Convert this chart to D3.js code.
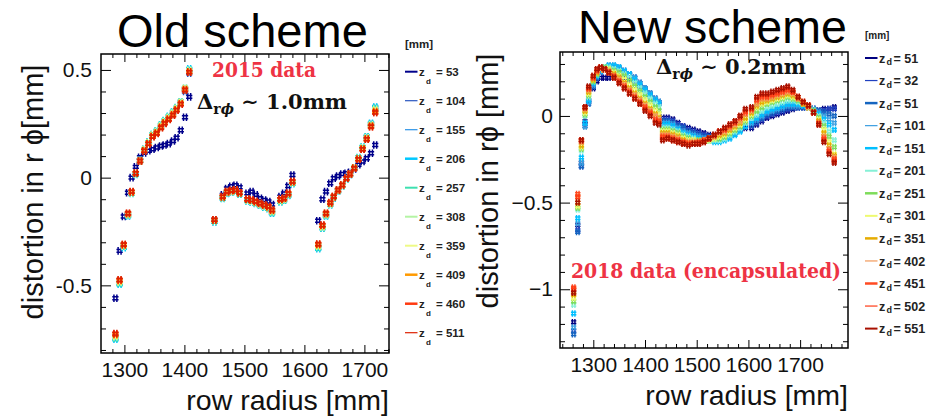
<!DOCTYPE html>
<html><head><meta charset="utf-8">
<script src="https://cdn.jsdelivr.net/npm/d3@7"></script>
<style>body{margin:0;background:#fff}svg{display:block}</style>
</head><body>
<svg id="c" width="936" height="418"></svg>
<script>
// ---------------- DATA: Old scheme (2015) ----------------
const oldRadius = [1285,1292,1299,1306,1312,1319,1326,1333,1340,1347,1354,1361,1367,1374,1381,1387,1394,1401,1408,
  1450,1464,1471,1478,1485,1492,1505,1512,1519,1526,1533,1540,1546,1560,1566,1573,1580,
  1623,1630,1636,1643,1649,1656,1663,1670,1676,1683,1690,1697,1704,1711,1718];
const oldZd = ["53","104","155","206","257","308","359","409","460","511"];
const old_z53 = [-0.56,-0.34,-0.18,-0.07,0.0,0.05,0.095,0.115,0.125,0.132,0.14,0.147,0.152,0.158,0.17,0.185,0.22,0.28,0.375,
  -0.195,-0.08,-0.05,-0.04,-0.035,-0.045,-0.073,-0.065,-0.08,-0.096,-0.104,-0.111,-0.125,-0.088,-0.073,-0.039,0.012,
  -0.20,-0.10,-0.065,-0.026,-0.003,0.008,0.017,0.02,0.025,0.04,0.06,0.075,0.09,0.113,0.152];
const old_z104 = [-0.735,-0.48,-0.315,-0.17,-0.07,0.018,0.078,0.128,0.16,0.195,0.212,0.238,0.258,0.277,0.297,0.318,0.345,0.40,0.485,
  -0.20,-0.092,-0.07,-0.063,-0.06,-0.073,-0.103,-0.108,-0.115,-0.123,-0.131,-0.138,-0.155,-0.105,-0.1,-0.078,-0.022,
  -0.315,-0.226,-0.17,-0.12,-0.09,-0.06,-0.036,-0.005,0.016,0.044,0.088,0.137,0.185,0.245,0.315];
const old_z155 = [-0.745,-0.49,-0.32,-0.175,-0.072,0.016,0.08,0.13,0.163,0.198,0.216,0.242,0.262,0.282,0.302,0.322,0.35,0.41,0.5,
  -0.205,-0.095,-0.072,-0.066,-0.063,-0.076,-0.106,-0.112,-0.118,-0.127,-0.135,-0.142,-0.162,-0.11,-0.104,-0.082,-0.026,
  -0.325,-0.232,-0.175,-0.124,-0.093,-0.062,-0.038,-0.006,0.015,0.045,0.092,0.14,0.19,0.25,0.325];
const old_z206 = [-0.75,-0.495,-0.325,-0.178,-0.073,0.015,0.08,0.132,0.165,0.2,0.218,0.245,0.265,0.285,0.305,0.325,0.352,0.412,0.505,
  -0.205,-0.097,-0.073,-0.067,-0.064,-0.077,-0.108,-0.113,-0.12,-0.128,-0.137,-0.144,-0.165,-0.112,-0.105,-0.083,-0.028,
  -0.33,-0.235,-0.178,-0.126,-0.094,-0.063,-0.038,-0.006,0.015,0.046,0.093,0.142,0.19,0.252,0.328];
const old_z257 = [-0.745,-0.49,-0.32,-0.175,-0.072,0.017,0.08,0.131,0.164,0.2,0.217,0.244,0.264,0.283,0.303,0.324,0.352,0.415,0.5,
  -0.203,-0.095,-0.071,-0.066,-0.063,-0.076,-0.106,-0.111,-0.118,-0.126,-0.135,-0.142,-0.162,-0.11,-0.103,-0.081,-0.026,
  -0.325,-0.232,-0.175,-0.124,-0.092,-0.061,-0.037,-0.005,0.016,0.046,0.092,0.14,0.188,0.248,0.322];
const old_z308 = [-0.74,-0.485,-0.318,-0.172,-0.07,0.018,0.079,0.13,0.162,0.198,0.214,0.241,0.261,0.28,0.3,0.322,0.35,0.415,0.498,
  -0.2,-0.093,-0.069,-0.064,-0.061,-0.074,-0.104,-0.109,-0.116,-0.124,-0.133,-0.14,-0.158,-0.107,-0.1,-0.078,-0.024,
  -0.32,-0.23,-0.172,-0.122,-0.091,-0.06,-0.036,-0.004,0.017,0.046,0.09,0.138,0.185,0.245,0.318];
const old_z359 = [-0.735,-0.482,-0.316,-0.17,-0.069,0.019,0.078,0.128,0.16,0.195,0.211,0.238,0.258,0.277,0.297,0.319,0.347,0.413,0.495,
  -0.198,-0.091,-0.068,-0.062,-0.059,-0.072,-0.102,-0.107,-0.114,-0.122,-0.13,-0.138,-0.155,-0.104,-0.099,-0.076,-0.021,
  -0.316,-0.226,-0.17,-0.12,-0.09,-0.059,-0.035,-0.004,0.017,0.045,0.088,0.136,0.183,0.242,0.312];
const old_z409 = [-0.73,-0.478,-0.313,-0.168,-0.067,0.02,0.078,0.126,0.158,0.192,0.208,0.235,0.255,0.273,0.293,0.316,0.344,0.41,0.492,
  -0.197,-0.09,-0.066,-0.061,-0.058,-0.071,-0.101,-0.105,-0.112,-0.12,-0.128,-0.136,-0.152,-0.102,-0.097,-0.075,-0.02,
  -0.312,-0.223,-0.167,-0.118,-0.089,-0.058,-0.034,-0.003,0.017,0.045,0.086,0.134,0.18,0.24,0.308];
const old_z460 = [-0.726,-0.476,-0.311,-0.166,-0.066,0.02,0.077,0.125,0.157,0.191,0.206,0.233,0.253,0.271,0.291,0.314,0.342,0.408,0.49,
  -0.196,-0.089,-0.065,-0.06,-0.057,-0.07,-0.1,-0.104,-0.111,-0.119,-0.127,-0.134,-0.15,-0.1,-0.096,-0.073,-0.018,
  -0.309,-0.221,-0.166,-0.117,-0.088,-0.057,-0.034,-0.003,0.017,0.044,0.085,0.132,0.178,0.237,0.303];
const old_z511 = [-0.724,-0.474,-0.31,-0.165,-0.065,0.02,0.077,0.124,0.156,0.19,0.205,0.232,0.252,0.27,0.29,0.313,0.341,0.406,0.49,
  -0.196,-0.088,-0.065,-0.06,-0.057,-0.07,-0.10,-0.104,-0.111,-0.119,-0.127,-0.134,-0.15,-0.10,-0.096,-0.073,-0.018,
  -0.308,-0.22,-0.165,-0.116,-0.088,-0.057,-0.034,-0.003,0.017,0.044,0.085,0.132,0.178,0.237,0.302];
const oldXTicks = [1300,1400,1500,1600,1700];
const oldXTickLabels = ["1300","1400","1500","1600","1700"];
const oldYTicks = [-0.5,0,0.5];
const oldYTickLabels = ["-0.5","0","0.5"];

// ---------------- DATA: New scheme (2018) ----------------
const newRadius = [1262,1270,1277,1284,1291,1300,1307,1314,1322,1330,1340,1350,1360,1370,1380,1390,1400,1410,1420,1427,
  1434,1444,1454,1464,1474,1484,1494,1504,1514,1524,1534,1544,1554,1564,1574,1584,1594,
  1606,1616,1626,1636,1646,1656,1666,1676,1686,1696,1706,1716,1726,1736,1746,1756,1766];
const newZd = ["51","32","51","101","151","201","251","301","351","402","451","502","551"];
const new_s0 = [-1.19,-0.63,-0.27,-0.03,0.09,0.16,0.20,0.22,0.22,0.22,0.23,0.23,0.22,0.21,0.19,0.17,0.15,0.12,0.09,0.07,
  -0.01,-0.01,-0.02,-0.04,-0.06,-0.07,-0.08,-0.09,-0.10,-0.11,-0.11,-0.11,-0.11,-0.10,-0.09,-0.08,-0.07,
  -0.07,-0.05,-0.03,-0.01,0.0,0.01,0.02,0.03,0.04,0.05,0.05,0.05,0.04,0.03,0.04,0.04,0.05];
const new_s1 = [-1.24,-0.66,-0.29,-0.05,0.08,0.17,0.22,0.25,0.27,0.28,0.28,0.27,0.26,0.24,0.22,0.19,0.16,0.13,0.10,0.08,
  -0.02,-0.02,-0.03,-0.05,-0.06,-0.08,-0.09,-0.10,-0.11,-0.12,-0.12,-0.12,-0.11,-0.10,-0.09,-0.08,-0.06,
  -0.06,-0.04,-0.02,0.0,0.01,0.02,0.03,0.04,0.05,0.05,0.05,0.05,0.04,0.03,0.03,0.04,0.04];
const new_s2 = [-1.26,-0.67,-0.29,-0.06,0.07,0.17,0.22,0.26,0.28,0.29,0.29,0.28,0.26,0.24,0.22,0.19,0.16,0.13,0.10,0.08,
  -0.03,-0.03,-0.04,-0.06,-0.07,-0.09,-0.10,-0.11,-0.12,-0.12,-0.13,-0.12,-0.12,-0.11,-0.10,-0.08,-0.06,
  -0.05,-0.03,-0.01,0.01,0.02,0.03,0.04,0.05,0.05,0.05,0.05,0.05,0.04,0.03,0.02,0.01,0.0];
const new_s3 = [-1.22,-0.62,-0.27,-0.06,0.08,0.18,0.23,0.26,0.28,0.29,0.29,0.28,0.26,0.24,0.22,0.19,0.16,0.13,0.10,0.08,
  -0.04,-0.04,-0.05,-0.07,-0.09,-0.10,-0.11,-0.12,-0.13,-0.13,-0.14,-0.13,-0.13,-0.12,-0.10,-0.08,-0.06,
  -0.04,-0.02,0.0,0.02,0.03,0.04,0.05,0.06,0.06,0.06,0.06,0.05,0.04,0.02,0.0,-0.02,-0.04];
const new_s4 = [-1.14,-0.59,-0.24,-0.04,0.09,0.19,0.23,0.26,0.28,0.29,0.29,0.28,0.26,0.24,0.21,0.18,0.15,0.12,0.09,0.07,
  -0.05,-0.05,-0.06,-0.08,-0.10,-0.11,-0.12,-0.13,-0.14,-0.14,-0.15,-0.15,-0.14,-0.13,-0.11,-0.09,-0.06,
  -0.03,-0.01,0.01,0.03,0.04,0.05,0.06,0.07,0.07,0.07,0.06,0.05,0.03,0.01,-0.02,-0.05,-0.08];
const new_s5 = [-1.09,-0.54,-0.20,0.0,0.11,0.20,0.24,0.27,0.28,0.28,0.27,0.26,0.24,0.22,0.19,0.16,0.13,0.10,0.07,0.05,
  -0.07,-0.07,-0.08,-0.09,-0.11,-0.12,-0.13,-0.14,-0.14,-0.14,-0.14,-0.14,-0.13,-0.11,-0.09,-0.07,-0.04,
  -0.01,0.01,0.03,0.05,0.06,0.07,0.08,0.09,0.09,0.08,0.07,0.05,0.03,0.0,-0.04,-0.09,-0.14];
const new_s6 = [-1.07,-0.53,-0.19,0.01,0.12,0.20,0.24,0.27,0.28,0.27,0.26,0.25,0.23,0.20,0.17,0.14,0.11,0.08,0.05,0.03,
  -0.08,-0.08,-0.09,-0.10,-0.12,-0.13,-0.14,-0.14,-0.14,-0.14,-0.13,-0.13,-0.12,-0.10,-0.08,-0.06,-0.03,
  0.0,0.03,0.05,0.07,0.08,0.09,0.10,0.11,0.10,0.09,0.07,0.05,0.03,-0.01,-0.06,-0.12,-0.18];
const new_s7 = [-1.05,-0.52,-0.18,0.02,0.13,0.21,0.25,0.27,0.27,0.27,0.25,0.23,0.21,0.18,0.15,0.12,0.09,0.06,0.03,0.01,
  -0.09,-0.09,-0.10,-0.11,-0.13,-0.14,-0.14,-0.15,-0.14,-0.14,-0.13,-0.12,-0.11,-0.09,-0.07,-0.05,-0.02,
  0.01,0.05,0.07,0.08,0.09,0.10,0.11,0.12,0.11,0.10,0.07,0.05,0.02,-0.02,-0.08,-0.15,-0.22];
const new_s8 = [-1.03,-0.50,-0.17,0.03,0.14,0.21,0.25,0.27,0.27,0.26,0.24,0.22,0.19,0.16,0.13,0.10,0.07,0.04,0.01,-0.01,
  -0.10,-0.10,-0.11,-0.12,-0.14,-0.15,-0.15,-0.15,-0.14,-0.13,-0.12,-0.11,-0.10,-0.08,-0.06,-0.04,-0.01,
  0.02,0.06,0.08,0.09,0.10,0.11,0.12,0.13,0.12,0.10,0.07,0.05,0.02,-0.03,-0.10,-0.17,-0.23];
const new_s9 = [-1.0,-0.46,-0.15,0.04,0.15,0.22,0.26,0.27,0.27,0.26,0.23,0.21,0.18,0.15,0.12,0.09,0.06,0.03,0.0,-0.02,
  -0.11,-0.11,-0.12,-0.13,-0.15,-0.15,-0.15,-0.15,-0.14,-0.13,-0.12,-0.10,-0.09,-0.07,-0.05,-0.03,0.01,
  0.03,0.07,0.10,0.10,0.11,0.12,0.13,0.14,0.13,0.10,0.08,0.05,0.02,-0.04,-0.12,-0.19,-0.24];
const new_s10 = [-0.99,-0.45,-0.14,0.05,0.16,0.22,0.26,0.28,0.27,0.25,0.23,0.20,0.17,0.14,0.11,0.08,0.05,0.02,-0.02,-0.03,
  -0.12,-0.12,-0.13,-0.14,-0.15,-0.16,-0.16,-0.15,-0.14,-0.13,-0.11,-0.09,-0.08,-0.06,-0.04,-0.01,0.02,
  0.04,0.09,0.11,0.11,0.12,0.13,0.14,0.15,0.14,0.11,0.08,0.06,0.02,-0.04,-0.13,-0.20,-0.25];
const new_s11 = [-1.0,-0.47,-0.14,0.05,0.16,0.23,0.27,0.28,0.27,0.25,0.22,0.19,0.16,0.13,0.10,0.07,0.04,0.01,-0.03,-0.04,
  -0.13,-0.13,-0.14,-0.15,-0.16,-0.16,-0.16,-0.16,-0.15,-0.13,-0.11,-0.09,-0.07,-0.05,-0.03,0.0,0.03,
  0.04,0.10,0.12,0.12,0.13,0.14,0.15,0.16,0.14,0.11,0.08,0.06,0.02,-0.05,-0.14,-0.21,-0.26];
const new_s12 = [-1.02,-0.50,-0.14,0.05,0.17,0.23,0.27,0.28,0.27,0.25,0.22,0.19,0.16,0.13,0.10,0.07,0.03,0.0,-0.04,-0.05,
  -0.14,-0.13,-0.14,-0.15,-0.16,-0.17,-0.16,-0.16,-0.15,-0.13,-0.11,-0.09,-0.07,-0.05,-0.03,0.0,0.04,
  0.05,0.11,0.13,0.13,0.14,0.15,0.16,0.17,0.15,0.11,0.08,0.06,0.02,-0.05,-0.15,-0.22,-0.27];
const newXTicks = [1300,1400,1500,1600,1700];
const newXTickLabels = ["1300","1400","1500","1600","1700"];
const newYTicks = [-1,-0.5,0];
const newYTickLabels = ["\u22121","\u22120.5","0"];

// ---------------- STYLES ----------------
const oldColors = ["#00008b","#2a56c0","#2b92e6","#00c8ff","#3ee0b0","#b4f4a4","#eefa86","#ff9a00","#ff3a10","#dd2000"];
const oldLegendWidths = [2,1.2,1.2,2.5,2,2,2,2.5,2.5,1.2];
const newColors = ["#000080","#2040c0","#1565c0","#3a9ee0","#00bfff","#86f0d6","#7edc5a","#eefa70","#e6ac00","#f29a5a","#ff4a22","#ff3a14","#a81000"];
const newLegendWidths = [2,1.2,2.5,1.2,2.5,2,2.5,2,2.5,1.2,2.5,1.2,2];

const oldSeries = [old_z53,old_z104,old_z155,old_z206,old_z257,old_z308,old_z359,old_z409,old_z460,old_z511];
const newSeries = [new_s0,new_s1,new_s2,new_s3,new_s4,new_s5,new_s6,new_s7,new_s8,new_s9,new_s10,new_s11,new_s12];

const svg = d3.select("#c");
const SANS = "'Liberation Sans', Arial, Helvetica, sans-serif";
const SERIF = "'DejaVu Serif', serif";

function marker(s){
  const a = 3*s, b = 1.4*s, c = 3.6*s;
  return `M${-a},${-b}H${a}M${-a},${b}H${a}M${-b},${-c}V${c}M${b},${-c}V${c}`;
}

function panel(o){
  const g = svg.append("g");
  const x = d3.scaleLinear().domain(o.xDomain).range([o.left, o.right]);
  const y = d3.scaleLinear().domain(o.yDomain).range([o.bottom, o.top]);
  const xMinor = d3.range(Math.ceil(o.xDomain[0]/20), Math.floor(o.xDomain[1]/20)+1).map(k=>k*20).filter(v=>o.xTicks.indexOf(v)<0);
  const yMinor = d3.range(Math.ceil(o.yDomain[0]*10), Math.floor(o.yDomain[1]*10)+1).map(k=>k/10).filter(v=>!o.yTicks.some(t=>Math.abs(t-v)<1e-9));

  o.series.forEach((vals,si)=>{
    const sg = g.append("g").attr("stroke", o.colors[si]).attr("stroke-width", o.mw).attr("fill","none");
    sg.selectAll("path").data(o.radius.map((r,i)=>[r,vals[i]])).join("path")
      .attr("transform", d=>`translate(${x(d[0])},${y(d[1])})`)
      .attr("d", marker(o.ms));
  });

  function styleAxis(sel, fs){
    sel.select(".domain").remove();
    sel.attr("color","#000");
    sel.selectAll("line").attr("stroke-width",1);
    sel.selectAll("text").attr("font-family",SANS).attr("font-size",fs).attr("fill","#111");
  }
  const lab = (arr,ticks)=> (d)=>arr[ticks.indexOf(d)];
  g.append("g").attr("transform",`translate(0,${o.bottom})`)
    .call(d3.axisBottom(x).tickValues(o.xTicks).tickSize(-8).tickPadding(o.xPad).tickFormat(lab(o.xLabels,o.xTicks)))
    .call(s=>styleAxis(s,21));
  g.append("g").attr("transform",`translate(0,${o.bottom})`)
    .call(d3.axisBottom(x).tickValues(xMinor).tickSize(-4).tickFormat("")).call(s=>styleAxis(s,1));
  g.append("g").attr("transform",`translate(0,${o.top})`)
    .call(d3.axisTop(x).tickValues(o.xTicks).tickSize(-8).tickFormat("")).call(s=>styleAxis(s,1));
  g.append("g").attr("transform",`translate(0,${o.top})`)
    .call(d3.axisTop(x).tickValues(xMinor).tickSize(-4).tickFormat("")).call(s=>styleAxis(s,1));
  g.append("g").attr("transform",`translate(${o.left},0)`)
    .call(d3.axisLeft(y).tickValues(o.yTicks).tickSize(-10).tickPadding(o.yPad).tickFormat(lab(o.yLabels,o.yTicks)))
    .call(s=>styleAxis(s,21));
  g.append("g").attr("transform",`translate(${o.left},0)`)
    .call(d3.axisLeft(y).tickValues(yMinor).tickSize(-5).tickFormat("")).call(s=>styleAxis(s,1));
  g.append("g").attr("transform",`translate(${o.right},0)`)
    .call(d3.axisRight(y).tickValues(o.yTicks).tickSize(-10).tickFormat("")).call(s=>styleAxis(s,1));
  g.append("g").attr("transform",`translate(${o.right},0)`)
    .call(d3.axisRight(y).tickValues(yMinor).tickSize(-5).tickFormat("")).call(s=>styleAxis(s,1));

  g.append("rect").attr("x",o.left).attr("y",o.top).attr("width",o.right-o.left).attr("height",o.bottom-o.top)
    .attr("fill","none").attr("stroke","#000").attr("stroke-width",1.5);

  g.append("text").attr("x",o.titleX).attr("y",o.titleY).attr("font-family",SANS).attr("font-size",o.titleFs)
    .attr("fill","#000").text(o.title);
  g.append("text").attr("x",o.right).attr("y",o.xTitleY).attr("text-anchor","end").attr("font-family",SANS)
    .attr("font-size",28.5).attr("fill","#111").text("row radius [mm]");
  g.append("text").attr("transform",`translate(${o.yTitleX},${o.yTitleC}) rotate(-90)`).attr("text-anchor","middle")
    .attr("font-family",SANS).attr("font-size",29).attr("fill","#111").text(o.yTitle);

  const lg = g.append("g").attr("font-family",SANS).attr("font-weight","bold").attr("fill","#222");
  lg.append("text").attr("x",o.lgX).attr("y",o.lgHeadY).attr("font-size",o.lgHeadFs).text("[mm]");
  o.zd.forEach((z,i)=>{
    const cy = o.lgY0 + i*o.lgDy;
    lg.append("line").attr("x1",o.lgX).attr("x2",o.lgX+12.5).attr("y1",cy).attr("y2",cy)
      .attr("stroke",o.colors[i]).attr("stroke-width",o.lgW[i]);
    lg.append("text").attr("x",o.lgX+14).attr("y",cy+o.lgZdy).attr("font-size",o.lgFs).text("z");
    lg.append("text").attr("x",o.lgX+14+o.lgDx).attr("y",cy+o.lgSubDy).attr("font-size",o.lgSubFs).text("d");
    lg.append("text").attr("x",o.lgX+o.lgEqX).attr("y",cy+o.lgZdy).attr("font-size",o.lgFs).text("= "+z);
  });
  return {x,y,g};
}

const P1 = panel({left:101,right:389,top:54,bottom:353,xDomain:[1261,1741],yDomain:[-0.814,0.574],
  xTicks:oldXTicks,xLabels:oldXTickLabels,yTicks:oldYTicks,yLabels:oldYTickLabels,xPad:9,yPad:9,
  series:oldSeries,radius:oldRadius,colors:oldColors,ms:1.05,mw:1.5,
  title:"Old scheme",titleX:117,titleY:47,titleFs:47,xTitleY:410,yTitleX:43,yTitleC:192,yTitle:"distortion in r \u03d5[mm]",
  zd:oldZd,lgW:oldLegendWidths,lgX:405,lgHeadY:47.5,lgHeadFs:11.5,lgY0:71.7,lgDy:29.0,lgFs:11.5,lgZdy:4.5,
  lgSubFs:8,lgDx:7,lgSubDy:12.5,lgEqX:31});

const P2 = panel({left:560,right:848,top:52,bottom:348,xDomain:[1235.6,1792.6],yDomain:[-1.339,0.369],
  xTicks:newXTicks,xLabels:newXTickLabels,yTicks:newYTicks,yLabels:newYTickLabels,xPad:9,yPad:7,
  series:newSeries,radius:newRadius,colors:newColors,ms:0.9,mw:1.4,
  title:"New scheme",titleX:578,titleY:42.5,titleFs:46.5,xTitleY:405,yTitleX:498,yTitleC:181,yTitle:"distortion in r\u03d5 [mm]",
  zd:newZd,lgW:newLegendWidths,lgX:865,lgHeadY:39,lgHeadFs:10,lgY0:58,lgDy:22.55,lgFs:12.5,lgZdy:4.6,
  lgSubFs:9,lgDx:7.5,lgSubDy:7,lgEqX:28.5});

function delta(g,x,y,val){
  const t = g.append("text").attr("x",x).attr("y",y).attr("font-family",SERIF).attr("font-weight","bold")
    .attr("font-size",21).attr("fill","#111");
  t.append("tspan").text("\u0394");
  t.append("tspan").attr("font-size",14).attr("dy",5).text("r");
  t.append("tspan").attr("font-size",14).attr("font-style","italic").text("\u03d5");
  t.append("tspan").attr("dy",-5).text(" \u223c "+val);
}
P1.g.append("text").attr("x",212).attr("y",77).attr("font-family",SERIF).attr("font-weight","bold")
  .attr("font-size",20).attr("fill","#ee3344").attr("textLength",104).attr("lengthAdjust","spacingAndGlyphs").text("2015 data");
delta(P1.g,197,109,"1.0mm");
delta(P2.g,656,74,"0.2mm");
P2.g.append("text").attr("x",571).attr("y",278).attr("font-family",SERIF).attr("font-weight","bold")
  .attr("font-size",21).attr("fill","#ee3344").attr("textLength",270).attr("lengthAdjust","spacingAndGlyphs").text("2018 data (encapsulated)");
</script>
</body></html>
